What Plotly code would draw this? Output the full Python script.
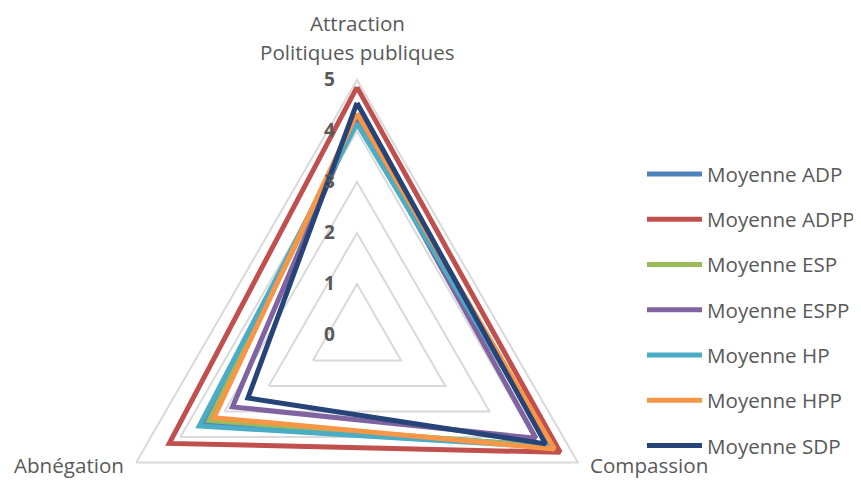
import plotly.graph_objects as go

categories = ["Attraction Politiques publiques", "Compassion", "Abnégation"]
category_lines = [["Attraction", "Politiques publiques"], ["Compassion"], ["Abnégation"]]
series_names = ["Moyenne ADP", "Moyenne ADPP", "Moyenne ESP", "Moyenne ESPP",
                "Moyenne HP", "Moyenne HPP", "Moyenne SDP"]
adp = [4.25, 4.35, 3.42]
adpp = [4.86, 4.6, 4.25]
esp = [4.2, 4.38, 3.35]
espp = [4.3, 4.05, 2.82]
hp = [4.15, 4.4, 3.57]
hpp = [4.35, 4.47, 3.24]
sdp = [4.55, 4.27, 2.47]
radial_ticks = [0, 1, 2, 3, 4, 5]

series_values = [adp, adpp, esp, espp, hp, hpp, sdp]
colors = ["#4F81BD", "#C0504D", "#9BBB59", "#8064A2", "#4BACC6", "#F79646", "#264478"]

W, H = 861, 600
OFF = 8  # page offset compensation
cx, cy, R = 357 - OFF, 335 - OFF, 255


def px(x):
    return (x - OFF) / W


def py(y):
    return (H - (y - OFF)) / H


fig = go.Figure()
for name, vals, col in zip(series_names, series_values, colors):
    fig.add_trace(go.Scatterpolar(
        r=vals + vals[:1],
        theta=categories + categories[:1],
        mode="lines",
        name=name,
        legendgroup=name,
        line=dict(color=col, width=5),
        hoverinfo="skip",
    ))

# category labels (placed like the Excel radar)
label_pos = [[(357, 23), (357, 52)], [(649, 465)], [(69, 465)]]
for lines, poss in zip(category_lines, label_pos):
    for txt, (x, y) in zip(lines, poss):
        fig.add_annotation(text=txt, x=px(x), y=py(y), xref="paper", yref="paper",
                           xanchor="center", yanchor="middle", showarrow=False,
                           font=dict(size=20.6, color="#595959"))

fig.update_layout(
    width=W, height=H, autosize=False,
    margin=dict(l=0, r=0, t=0, b=0),
    paper_bgcolor="white",
    font=dict(family="Open Sans, Lato, sans-serif", color="#595959", size=21),
    polar=dict(
        domain=dict(x=[(cx - R) / W, (cx + R) / W], y=[(H - cy - R) / H, (H - cy + R) / H]),
        bgcolor="white",
        gridshape="linear",
        radialaxis=dict(
            range=[0, 5], tickvals=radial_ticks, angle=90, side="counterclockwise", tickangle=90,
            showline=False, ticks="outside", ticklen=15, tickcolor="rgba(0,0,0,0)",
            showgrid=True, gridcolor="#D9D9D9", gridwidth=2,
            tickfont=dict(size=19, color="#595959", weight="bold"),
        ),
        angularaxis=dict(
            direction="clockwise", rotation=90, showgrid=False, showticklabels=False,
            showline=True, linecolor="#D9D9D9", linewidth=2, ticks="",
        ),
    ),
    legend=dict(
        x=634 / W, y=(H - 146) / H, xanchor="left", yanchor="top",
        traceorder="grouped", tracegroupgap=15.5, itemwidth=55,
        font=dict(size=20.6, color="#595959"),
        bgcolor="rgba(0,0,0,0)",
    ),
)

fig.write_html("out.html")
